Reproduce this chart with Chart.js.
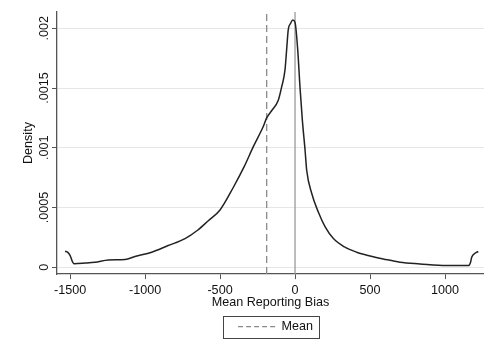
<!DOCTYPE html>
<html>
<head>
<meta charset="utf-8">
<script src="https://cdn.jsdelivr.net/npm/chart.js@4"></script>
<style>
  html, body { margin: 0; padding: 0; background: #fff; }
  #wrap { width: 484px; height: 345px; position: relative; }
</style>
</head>
<body>
<div id="wrap"><canvas id="chart"></canvas></div>
<script>
// kernel density of mean reporting bias
const biasX = [-1533, -1515, -1500, -1485, -1473, -1400, -1333, -1244, -1133, -1067, -956, -850, -733, -650, -578, -500, -411, -340, -278, -211, -189, -156, -111, -89, -67, -56, -45, -30, -15, 0, 18, 33, 49, 67, 78, 111, 156, 200, 256, 330, 411, 500, 589, 700, 833, 1011, 1156, 1170, 1178, 1200, 1222];
const densityY = [0.000134, 0.000125, 0.0001, 0.00005, 0.00003, 0.000035, 0.000042, 0.000062, 0.000065, 0.00009, 0.000126, 0.00018, 0.00024, 0.00031, 0.00039, 0.00048, 0.00067, 0.00084, 0.00101, 0.00118, 0.00125, 0.00131, 0.0014, 0.00151, 0.00165, 0.00182, 0.00199, 0.00204, 0.00207, 0.00205, 0.00182, 0.00151, 0.00123, 0.00098, 0.00081, 0.00062, 0.00046, 0.00034, 0.00024, 0.00017, 0.000126, 0.000095, 0.00007, 0.000042, 0.000028, 0.000014, 0.000014, 0.00004, 0.000084, 0.000118, 0.000132];
const meanBias = -189;
const zeroLine = 0;

const xTicks = [-1500, -1000, -500, 0, 500, 1000];
const yTicks = [0, 0.0005, 0.001, 0.0015, 0.002];
const yTickLabels = ['0', '.0005', '.001', '.0015', '.002'];

const xMin = -1587, xMax = 1260;
const yMin = -0.000057, yMax = 0.0021367;

const font = { family: "'Liberation Sans', Arial, sans-serif", size: 12.6 };
const axisColor = '#555';
const meanDash = [7, 4];

const densityPoints = biasX.map((x, i) => ({ x: x, y: densityY[i] }));

// nudge the legend a bit right and frame it like Stata does
const legendBox = {
    id: 'legendBox',
    afterLayout(chart) {
        chart.legend.left += 5;
        chart.legend.right += 5;
    },
    afterDraw(chart) {
        const hb = chart.legend.legendHitBoxes[0];
        if (!hb) return;
        const ctx = chart.ctx;
        const cy = hb.top + hb.height / 2;
        ctx.save();
        ctx.strokeStyle = '#444';
        ctx.lineWidth = 1;
        ctx.strokeRect(Math.round(hb.left - 15) + 0.5, Math.round(cy - 11) + 0.5, Math.round(hb.width + 21), 22);
        ctx.restore();
    }
};

new Chart(document.getElementById('chart'), {
    type: 'scatter',
    data: {
        datasets: [
            {
                label: 'Density',
                data: densityPoints,
                showLine: true,
                borderColor: '#222',
                borderWidth: 1.5,
                pointRadius: 0,
                cubicInterpolationMode: 'monotone',
                order: 1
            },
            {
                label: 'Mean',
                data: [{ x: meanBias, y: yMin }, { x: meanBias, y: yMax }],
                showLine: true,
                borderColor: '#8a8a8a',
                borderWidth: 1.3,
                borderDash: meanDash,
                pointRadius: 0,
                order: 2
            },
            {
                label: 'zero',
                data: [{ x: zeroLine, y: yMin }, { x: zeroLine, y: yMax }],
                showLine: true,
                borderColor: '#9a9a9a',
                borderWidth: 1.3,
                pointRadius: 0,
                order: 3
            }
        ]
    },
    options: {
        responsive: true,
        maintainAspectRatio: false,
        animation: false,
        layout: { padding: { top: 12, right: 0, left: 0, bottom: 2 } },
        plugins: {
            tooltip: { enabled: false },
            legend: {
                position: 'bottom',
                fullSize: false,
                labels: {
                    filter: item => item.text === 'Mean',
                    generateLabels: chart => Chart.defaults.plugins.legend.labels.generateLabels(chart).map(l => {
                        l.lineDash = [5, 3];
                        l.strokeStyle = '#8a8a8a';
                        l.lineWidth = 1.3;
                        return l;
                    }),
                    usePointStyle: true,
                    pointStyle: 'line',
                    pointStyleWidth: 37,
                    padding: 10.6,
                    color: '#111',
                    font: font
                }
            }
        },
        scales: {
            x: {
                type: 'linear',
                min: xMin,
                max: xMax,
                afterBuildTicks: s => { s.ticks = xTicks.map(v => ({ value: v })); },
                afterFit: s => { s.height = 35.7; },
                grid: { drawOnChartArea: false, drawTicks: true, tickLength: 5, tickColor: axisColor },
                border: { color: axisColor, width: 1.3 },
                ticks: { padding: 3.5, color: '#111', font: font, maxRotation: 0, callback: v => String(v) },
                title: { display: true, text: 'Mean Reporting Bias', color: '#111', font: font, padding: { top: 0, bottom: 0 } }
            },
            y: {
                type: 'linear',
                min: yMin,
                max: yMax,
                afterBuildTicks: s => { s.ticks = yTicks.map(v => ({ value: v })); },
                afterFit: s => { s.width = 57; },
                grid: { color: '#e6e6e6', lineWidth: 1, drawTicks: true, tickLength: 5, tickColor: axisColor },
                border: { color: axisColor, width: 1.3 },
                ticks: {
                    padding: -7.8,
                    color: '#111',
                    font: font,
                    minRotation: 90,
                    maxRotation: 90,
                    crossAlign: 'center',
                    callback: (v, i) => yTickLabels[i]
                },
                title: { display: true, text: 'Density', color: '#111', font: font, padding: { top: 21.4, bottom: 0 } }
            }
        }
    },
    plugins: [legendBox]
});
</script>
</body>
</html>
